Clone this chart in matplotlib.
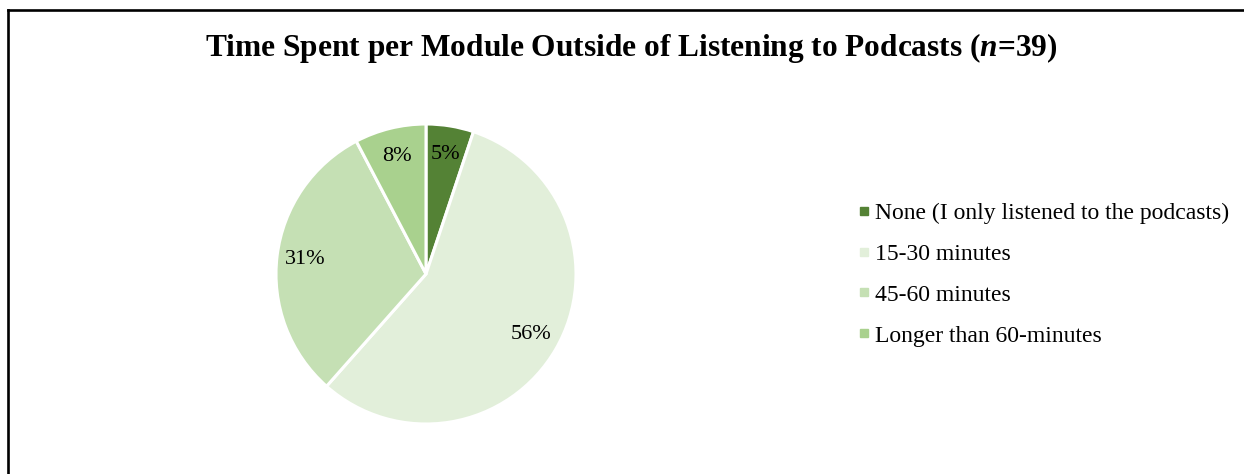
import matplotlib
matplotlib.use('Agg')
import matplotlib.pyplot as plt
from matplotlib.lines import Line2D

plt.rcParams.update({
    'font.family': ['Liberation Serif', 'DejaVu Serif'],
    'mathtext.fontset': 'custom',
    'mathtext.rm': 'Liberation Serif:bold',
    'mathtext.it': 'Liberation Serif:italic:bold',
})

# Survey responses (n = 39)
categories = ['None (I only listened to the podcasts)', '15-30 minutes',
              '45-60 minutes', 'Longer than 60-minutes']
counts = [2, 22, 12, 3]
colors = ['#548235', '#E2EFDA', '#C5E0B4', '#A9D18E']

W, H = 1244, 474
fig = plt.figure(figsize=(W / 100, H / 100), dpi=100)

# pie area: centre (426, 274) px, radius 150 px
cx, cy, r = 426, 274, 150
ax = fig.add_axes([(cx - r) / W, (H - cy - r) / H, 2 * r / W, 2 * r / H])
wedges, texts, autotexts = ax.pie(
    counts, colors=colors, startangle=90, counterclock=False,
    autopct='%.0f%%', pctdistance=0.81, radius=1,
    wedgeprops=dict(edgecolor='white', linewidth=2.2),
    textprops=dict(fontsize=16, color='black'))
for w in wedges:
    w.set_clip_on(False)
ax.set_xlim(-1, 1)
ax.set_ylim(-1, 1)
ax.set_aspect('equal')
ax.axis('off')

fig.text(631 / W, 1 - 48 / H,
         'Time Spent per Module Outside of Listening to Podcasts ($n$=39)',
         ha='center', va='center', fontsize=22.6, fontweight='bold')

handles = [Line2D([], [], marker='s', linestyle='none', markersize=6,
                  markerfacecolor=c, markeredgecolor=c) for c in colors]
fig.legend(handles, categories, loc='upper left',
           bbox_to_anchor=(849 / W, 1 - 193 / H), frameon=False,
           fontsize=17, handlelength=0.5, handletextpad=0.22,
           labelspacing=0.82, borderaxespad=0)

# top and left border of the chart area
fig.add_artist(Line2D([8 / W, 1], [1 - 9.5 / H, 1 - 9.5 / H], color='black',
                      linewidth=1.9, transform=fig.transFigure))
fig.add_artist(Line2D([8 / W, 8 / W], [0, 1 - 9.5 / H], color='black',
                      linewidth=1.9, transform=fig.transFigure))

fig.savefig('out.png', dpi=100)
